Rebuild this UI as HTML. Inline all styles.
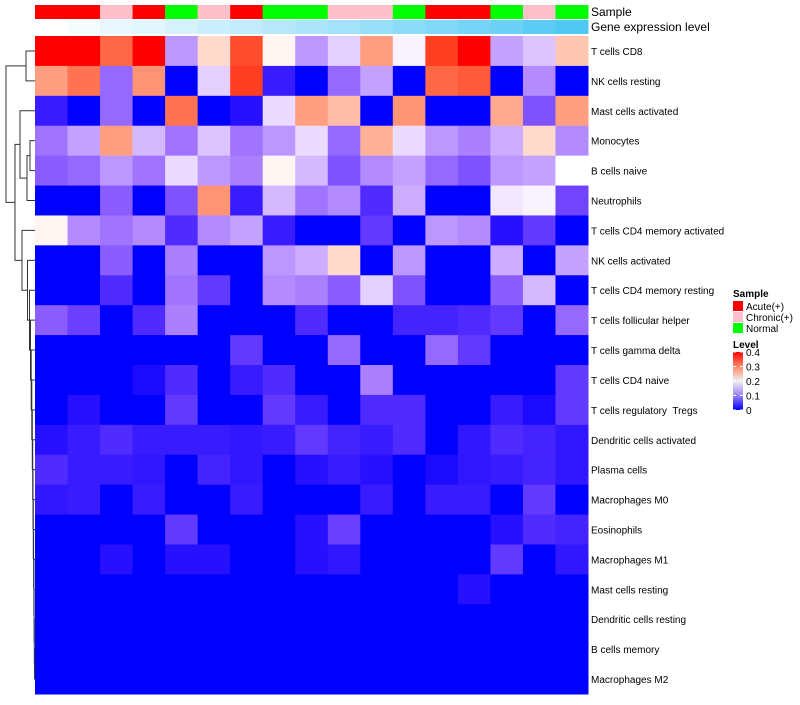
<!DOCTYPE html>
<html><head><meta charset="utf-8"><style>
body{margin:0;background:#fff;font-family:"Liberation Sans",sans-serif}
svg text{font-family:"Liberation Sans",sans-serif}
#labels text{white-space:pre}
</style></head><body>
<svg id="chart" width="800" height="700" xmlns="http://www.w3.org/2000/svg">
<g id="dendro" stroke="#333" stroke-width="1" fill="none"></g>
<g id="cells"></g>
<g id="annot"></g>
<g id="labels"></g>
<text x="591" y="16" font-size="12">Sample</text>
<text x="591" y="31" font-size="12">Gene expression level</text>
<g id="legend">
<text x="733" y="297" font-size="10" font-weight="bold">Sample</text>
<rect x="733" y="301" width="10" height="10" fill="#ff0000"/>
<text x="746" y="310" font-size="10">Acute(+)</text>
<rect x="733" y="312" width="10" height="10" fill="#ffc0cb"/>
<text x="746" y="321" font-size="10">Chronic(+)</text>
<rect x="733" y="323" width="10" height="10" fill="#00ff00"/>
<text x="746" y="332" font-size="10">Normal</text>
<text x="733" y="348" font-size="10" font-weight="bold">Level</text>
<defs><linearGradient id="lg" x1="0" y1="1" x2="0" y2="0">
<stop offset="0" stop-color="#0000ff"/><stop offset="0.25" stop-color="#9a82f5"/><stop offset="0.5" stop-color="#f2f0f2"/><stop offset="0.75" stop-color="#ff8a6a"/><stop offset="1" stop-color="#ff0000"/></linearGradient></defs>
<rect x="733" y="352" width="10" height="58" fill="url(#lg)"/>
<g id="ltick" font-size="10"></g>
</g>
</svg>
<script>
const rowLabels=["T cells CD8","NK cells resting","Mast cells activated","Monocytes","B cells naive","Neutrophils","T cells CD4 memory activated","NK cells activated","T cells CD4 memory resting","T cells follicular helper","T cells gamma delta","T cells CD4 naive","T cells regulatory  Tregs","Dendritic cells activated","Plasma cells","Macrophages M0","Eosinophils","Macrophages M1","Mast cells resting","Dendritic cells resting","B cells memory","Macrophages M2"];
const sampleGroups=["Acute","Acute","Chronic","Acute","Normal","Chronic","Acute","Normal","Normal","Chronic","Chronic","Normal","Acute","Acute","Normal","Chronic","Normal"];
const geneLevel=[0,0.06,0.12,0.17,0.22,0.28,0.33,0.39,0.45,0.5,0.56,0.62,0.68,0.74,0.8,0.88,0.95];
const levelTicks=[0,0.1,0.2,0.3,0.4];
const r1=[0.4,0.4,0.35,0.4,0.11,0.24,0.37,0.21,0.11,0.16,0.3,0.19,0.38,0.4,0.12,0.15,0.26];
const r2=[0.3,0.34,0.07,0.31,0,0.16,0.38,0.01,0,0.07,0.12,0,0.35,0.36,0,0.1,0];
const r3=[0.01,0,0.07,0,0.34,0,0.005,0.17,0.3,0.27,0,0.31,0,0,0.29,0.05,0.3];
const r4=[0.08,0.12,0.3,0.14,0.08,0.15,0.08,0.11,0.17,0.07,0.28,0.17,0.11,0.09,0.13,0.24,0.1];
const r5=[0.06,0.07,0.11,0.08,0.17,0.11,0.09,0.21,0.14,0.05,0.1,0.12,0.07,0.05,0.11,0.12,0.2];
const r6=[0,0,0.06,0,0.05,0.31,0.01,0.14,0.08,0.1,0.02,0.13,0,0,0.18,0.19,0.04];
const r7=[0.21,0.1,0.08,0.1,0.02,0.1,0.12,0.01,0,0,0.03,0,0.11,0.1,0.005,0.03,0];
const r8=[0,0,0.06,0,0.09,0,0,0.11,0.13,0.24,0,0.11,0,0,0.13,0,0.12];
const r9=[0,0,0.02,0,0.08,0.03,0,0.1,0.09,0.06,0.16,0.05,0,0,0.06,0.14,0];
const r10=[0.06,0.035,0,0.02,0.09,0,0,0,0.02,0,0,0.015,0.015,0.02,0.03,0,0.07];
const r11=[0,0,0,0,0,0,0.03,0,0,0.07,0,0,0.07,0.03,0,0,0];
const r12=[0,0,0,0.003,0.02,0,0.01,0.02,0,0,0.09,0,0,0,0,0,0.03];
const r13=[0,0.005,0,0,0.03,0,0,0.03,0.01,0,0.02,0.02,0,0,0.01,0.003,0.03];
const r14=[0.005,0.01,0.02,0.01,0.01,0.01,0.008,0.01,0.03,0.015,0.01,0.02,0,0.008,0.02,0.015,0.008];
const r15=[0.02,0.01,0.01,0.008,0,0.015,0.008,0,0.005,0.01,0.005,0,0.003,0.008,0.01,0.015,0.008];
const r16=[0.008,0.01,0,0.01,0,0,0.01,0,0,0,0.01,0,0.01,0.01,0,0.03,0];
const r17=[0,0,0,0,0.03,0,0,0,0.005,0.035,0,0,0,0,0.005,0.02,0.015];
const r18=[0,0,0.005,0,0.005,0.005,0,0,0.005,0.008,0,0,0,0,0.03,0,0.008];
const r19=[0,0,0,0,0,0,0,0,0,0,0,0,0,0.005,0,0,0];
const r20=[0,0,0,0,0,0,0,0,0,0,0,0,0,0,0,0,0];
const r21=[0,0,0,0,0,0,0,0,0,0,0,0,0,0,0,0,0];
const r22=[0,0,0,0,0,0,0,0,0,0,0,0,0,0,0,0,0];
const values=[r1,r2,r3,r4,r5,r6,r7,r8,r9,r10,r11,r12,r13,r14,r15,r16,r17,r18,r19,r20,r21,r22];

const NS="http://www.w3.org/2000/svg";
const X0=35,X1=588,Y0=36,Y1=694;
const nc=sampleGroups.length,nr=rowLabels.length;
const cw=(X1-X0)/nc,rh=(Y1-Y0)/nr;
const xPos=i=>X0+i*cw, yPos=j=>Y0+j*rh;
function mk(t,a,p){const e=document.createElementNS(NS,t);for(const k in a)e.setAttribute(k,a[k]);p.appendChild(e);return e;}
function s2l(c){c/=255;return c<=0.04045?c/12.92:Math.pow((c+0.055)/1.055,2.4);}
function l2s(c){c=c<=0.0031308?12.92*c:1.055*Math.pow(c,1/2.4)-0.055;return Math.max(0,Math.min(255,Math.round(c*255)));}
function toLab(rgb){const[r,g,b]=rgb.map(s2l);let x=(0.4124*r+0.3576*g+0.1805*b)/0.95047,y=0.2126*r+0.7152*g+0.0722*b,z=(0.0193*r+0.1192*g+0.9505*b)/1.08883;
const f=t=>t>0.008856?Math.cbrt(t):7.787*t+16/116;const fx=f(x),fy=f(y),fz=f(z);return[116*fy-16,500*(fx-fy),200*(fy-fz)];}
function fromLab(l){let fy=(l[0]+16)/116,fx=fy+l[1]/500,fz=fy-l[2]/200;const fi=t=>t*t*t>0.008856?t*t*t:(t-16/116)/7.787;
const x=fi(fx)*0.95047,y=fi(fy),z=fi(fz)*1.08883;
const r=3.2406*x-1.5372*y-0.4986*z,g=-0.9689*x+1.8758*y+0.0415*z,b=0.0557*x-0.2040*y+1.0570*z;return`rgb(${l2s(r)},${l2s(g)},${l2s(b)})`;}
const LB=toLab([0,0,255]),LW=toLab([255,255,255]),LR=toLab([255,0,0]);
function col(v){v=Math.max(0,Math.min(0.4,v));let a,b,t;if(v<=0.2){a=LB;b=LW;t=v/0.2;}else{a=LW;b=LR;t=(v-0.2)/0.2;}return fromLab(a.map((q,i)=>q+(b[i]-q)*t));}
const cells=document.getElementById('cells');
values.forEach((row,j)=>row.forEach((v,i)=>{
 const r=mk('rect',{x:xPos(i),y:yPos(j),width:cw+0.5,height:rh+0.5,fill:col(v)},cells);
 
 
}));
const annot=document.getElementById('annot');
const sc={Acute:"#ff0000",Chronic:"#ffc0cb",Normal:"#00ff00"};
sampleGroups.forEach((g,i)=>{
 const r=mk('rect',{x:xPos(i),y:5,width:cw+0.5,height:14,fill:sc[g]},annot);
 
 
});
geneLevel.forEach((v,i)=>{
 const c=`rgb(${Math.round(255-v*185)},${Math.round(255-v*58)},${Math.round(255-v*12)})`;
 const r=mk('rect',{x:xPos(i),y:20,width:cw+0.5,height:14,fill:c},annot);
 
 
});
const labels=document.getElementById('labels');
rowLabels.forEach((s,j)=>{
 const t=mk('text',{x:591,y:yPos(j)+rh/2+4,'font-size':10},labels);t.textContent=s;
 
 
});
const lt=document.getElementById('ltick');
levelTicks.forEach(v=>{
 const y=410-v/0.4*58;
 const t=mk('text',{x:746,y:y+4},lt);t.textContent=String(v);
 
 
 mk('line',{x1:733,x2:736,y1:y,y2:y,stroke:'#fff'},lt);
 mk('line',{x1:740,x2:743,y1:y,y2:y,stroke:'#fff'},lt);
});
const dg=document.getElementById('dendro');
const cy=j=>yPos(j)+rh/2;
function join(a,b,x){mk('path',{d:`M${a.x} ${a.y}H${x}V${b.y}H${b.x}`},dg);return {x:x,y:(a.y+b.y)/2};}
const leaf=j=>({x:X0,y:cy(j)});
const topNode=join(leaf(0),leaf(1),26);
const n45=join(leaf(3),leaf(4),30);
const n456=join(n45,leaf(5),27);
const clA=join(leaf(2),n456,20);
let clB=leaf(21);
const hs=[34.5,34.3,34.1,33.9,33.6,33.3,33,32.7,32.3,31.8,31.2,30.5,29.5,27.5];
for(let j=20,k=0;j>=7;j--,k++){clB=join(leaf(j),clB,hs[k]);}
clB=join(leaf(6),clB,22);
const clAB=join(clA,clB,15);
join(topNode,clAB,6);
</script>
</body></html>
